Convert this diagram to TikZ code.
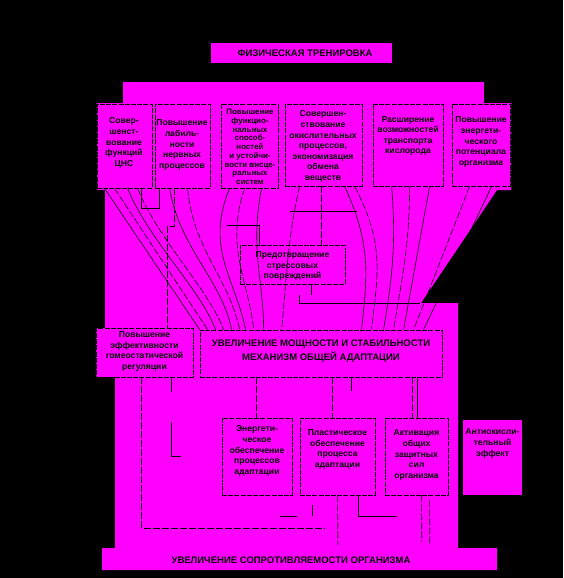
\documentclass[tikz,border=0pt]{standalone}
\usepackage{fontspec}
\setmainfont{Liberation Sans}
\usetikzlibrary{calc}
\definecolor{mag}{RGB}{255,0,255}
\begin{document}
\begin{tikzpicture}[x=1pt,y=-1pt,
  boxr/.style={draw=black, line width=0.8pt, dash pattern=on 5pt off 1.2pt, inner sep=0pt},
  bare/.style={inner sep=0pt},
  txt/.style={font=\bfseries\fontsize{8.6}{10.6}\selectfont, align=center, inner sep=0pt, text=black},
  txts/.style={font=\bfseries\fontsize{7.9}{8.7}\selectfont, align=center, inner sep=0pt, text=black},
  capt/.style={font=\bfseries\fontsize{9.5}{14}\selectfont, align=center, inner sep=0pt, text=black},
  ln/.style={draw=black, line width=0.6pt},
  dln/.style={draw=black, line width=0.6pt, dash pattern=on 7pt off 2pt}
]
\fill[black] (0,0) rectangle (563,578);
\useasboundingbox (0,0) rectangle (563,578);
% magenta regions
\fill[mag] (123,82) rectangle (484,104);
\fill[mag] (97,103) -- (511,103) -- (511,190) -- (497,190) -- (421,303) -- (458,303) -- (458,548) -- (497,548) -- (497,570) -- (102,570) -- (102,548) -- (115,548) -- (115,377) -- (96,377) -- (96,328) -- (105,328) -- (105,190) -- (97,190) -- cycle;

% title
\node[bare, fill=mag, minimum width=181pt, minimum height=20pt] (title) at (301.5,53) {};
\node[capt] (titlet) at (305,53.5) {ФИЗИЧЕСКАЯ ТРЕНИРОВКА};

% top row boxes
\node[boxr, minimum width=55pt, minimum height=84pt] (b1) at (124.5,146) {};
\node[boxr, minimum width=55pt, minimum height=84pt] (b2) at (182.5,146) {};
\node[boxr, minimum width=57pt, minimum height=84pt] (b3) at (249.5,146) {};
\node[boxr, minimum width=77pt, minimum height=82pt] (b4) at (323.5,145) {};
\node[boxr, minimum width=70pt, minimum height=82pt] (b5) at (408,145) {};
\node[boxr, minimum width=58pt, minimum height=82pt] (b6) at (481,145) {};
\node[txt] (t1) at (124,143) {Совер-\\шенст-\\вование\\функций\\ЦНС};
\node[txt] (t2) at (182,145) {Повышение\\лабиль-\\ности\\нервных\\процессов};
\node[txts] (t3) at (250,147) {Повышение\\функцио-\\нальных\\способ-\\ностей\\и устойчи-\\вости висце-\\ральных\\систем};
\node[txt] (t4) at (323,146.5) {Совершен-\\ствование\\окислительных\\процессов,\\экономизация\\обмена\\веществ};
\node[txt] (t5) at (408,136) {Расширение\\возможностей\\транспорта\\кислорода};
\node[txt] (t6) at (481,142) {Повышение\\энергети-\\ческого\\потенциала\\организма};

% middle
\node[boxr, minimum width=105pt, minimum height=39pt] (prev) at (292.5,264.5) {};
\node[txt] (tp) at (292.5,266) {Предотвращение\\стрессовых\\повреждений};

\node[boxr, minimum width=97pt, minimum height=49pt] (home) at (144.5,352.5) {};
\node[txt] (th) at (144.5,351.5) {Повышение\\эффективности\\гомеостатической\\регуляции};

\node[boxr, minimum width=242pt, minimum height=47pt] (main) at (321,353.5) {};
\node[capt] (tm) at (321,351.5) {УВЕЛИЧЕНИЕ МОЩНОСТИ И СТАБИЛЬНОСТИ\\МЕХАНИЗМ ОБЩЕЙ АДАПТАЦИИ};

% lower boxes
\node[boxr, minimum width=70pt, minimum height=77pt] (bA) at (257,456.5) {};
\node[boxr, minimum width=75pt, minimum height=77pt] (bB) at (337.5,456.5) {};
\node[boxr, minimum width=63pt, minimum height=77pt] (bC) at (416.5,456.5) {};
\node[bare, fill=mag, minimum width=59pt, minimum height=75pt] (bD) at (492.5,457.5) {};
\node[txt] (tA) at (257,451) {Энергети-\\ческое\\обеспечение\\процессов\\адаптации};
\node[txt] (tB) at (337.5,449.5) {Пластическое\\обеспечение\\процесса\\адаптации};
\node[txt] (tC) at (416.5,455) {Активация\\общих\\защитных\\сил\\организма};
\node[txt] (tD) at (492.5,443.5) {Антиокисли-\\тельный\\эффект};

% bottom band
\node[bare, minimum width=395pt, minimum height=22pt] (res) at (299.5,559) {};
\node[capt] (tr) at (291,560) {УВЕЛИЧЕНИЕ СОПРОТИВЛЯЕМОСТИ ОРГАНИЗМА};

% fan from top row to main
\draw[ln] ($(b1.south west)+(8,0)$) -- ($(main.north west)+(0,0)$);
\draw[dln] ($(b1.south west)+(18,0)$) -- ($(main.north west)+(8,0)$);
\draw[ln] ($(b1.south west)+(31,0)$) .. controls +(20,50) and +(-15,-40) .. ($(main.north west)+(16,0)$);
\draw[dln] ($(b1.south west)+(41,0)$) .. controls +(20,50) and +(-15,-40) .. ($(main.north west)+(24,0)$);
\draw[ln] ($(b2.south west)+(15,0)$) .. controls +(10,60) and +(-10,-50) .. ($(main.north west)+(32,0)$);
\draw[dln] ($(b2.south west)+(33,0)$) .. controls +(5,60) and +(-10,-50) .. ($(main.north west)+(40,0)$);
\draw[ln] ($(b3.south west)+(9,0)$) .. controls +(-25,60) and +(-10,-50) .. ($(main.north west)+(46,0)$);
\draw[dln] ($(b3.south west)+(24,0)$) .. controls +(-20,60) and +(-5,-50) .. ($(main.north west)+(54,0)$);
\draw[ln] ($(b3.south west)+(41,0)$) .. controls +(-12,60) and +(0,-50) .. ($(main.north west)+(64,0)$);
\draw[dln] ($(b4.south west)+(15,0)$) .. controls +(-12,50) and +(5,-50) .. ($(main.north west)+(82,0)$);
\draw[ln] ($(b4.south west)+(60,0)$) .. controls +(28,60) and +(5,-50) .. ($(main.north west)+(162,0)$);
\draw[dln] ($(b4.south west)+(70,0)$) .. controls +(32,60) and +(5,-50) .. ($(main.north west)+(172,0)$);
\draw[ln] ($(b5.south west)+(19,0)$) .. controls +(5,60) and +(8,-50) .. ($(main.north west)+(184,0)$);
\draw[dln] ($(b5.south west)+(37,0)$) .. controls +(0,60) and +(8,-50) .. ($(main.north west)+(194,0)$);
\draw[ln] ($(b5.south west)+(57,0)$) -- ($(main.north west)+(204,0)$);
\draw[dln] ($(b6.south west)+(18,0)$) -- ($(main.north west)+(214,0)$);
\draw[ln] ($(b6.south west)+(40,0)$) -- ($(main.north west)+(224,0)$);

% small bracket between b1 and b2
\draw[ln] ($(b1.south west)+(45,0)$) -- ++(0,20) -- ++(18,0) -- ($(b2.south west)+(5,0)$);
% b2 to homeostatic box
\draw[dln] ($(b2.south west)+(20,0)$) -- ++(0,38) -- ++(-7,0) -- ($(home.north west)+(72,0)$);
% b4 and b3 to prevention box
\draw[ln] ($(b4.south west)+(5,25)$) -- ($(b4.south west)+(72,25)$);
\draw[dln] ($(b4.south west)+(37,0)$) -- ($(prev.north west)+(82,0)$);
\draw[ln] ($(b3.south west)+(6,37)$) -- ++(33,0) -- ($(prev.north west)+(20,0)$);
% prevention box to main
\draw[ln] ($(prev.south west)+(72,0)$) -- ++(0,11);
\draw[ln] ($(prev.south west)+(60,11)$) -- ++(0,8) -- ++(120,0) coordinate (pend);

% main to lower boxes
\draw[dln] ($(main.south west)+(57,0)$) -- ($(bA.north west)+(35,0)$);
\draw[dln] ($(main.south west)+(133,0)$) -- ($(bB.north west)+(33,0)$);
\draw[ln] ($(main.south west)+(152,0)$) -- ++(0,14);
\draw[dln] ($(main.south west)+(213,0)$) -- ($(bC.north west)+(28,0)$);
\draw[ln] ($(main.south west)+(218,0)$) -- ($(bC.north west)+(33,0)$);

% homeostatic box down
\draw[dln] ($(home.south west)+(46,0)$) -- ++(0,151) -- ++(183,0) coordinate (hend);
\draw[ln] ($(home.south west)+(76,0)$) -- ++(0,15);
\draw[ln] ($(home.south west)+(76,45)$) -- ++(0,34) -- ++(9,0);

% lower boxes to result band
\draw[ln] ($(bA.south west)+(58,21)$) -- ++(17,0);
\draw[ln] ($(bA.south east)+(20,10)$) -- ++(0,11);
\draw[dln] ($(bB.south west)+(38,0)$) -- ($(res.north west)+(236,-3)$);
\draw[ln] ($(bB.south west)+(59,0)$) -- ++(0,21) -- ++(38,0);
\draw[dln] ($(bC.south west)+(37,0)$) -- ($(res.north west)+(320,-6)$);
\draw[dln] ($(bC.south west)+(45,5)$) -- ($(res.north west)+(328,-3)$);
\end{tikzpicture}
\end{document}
